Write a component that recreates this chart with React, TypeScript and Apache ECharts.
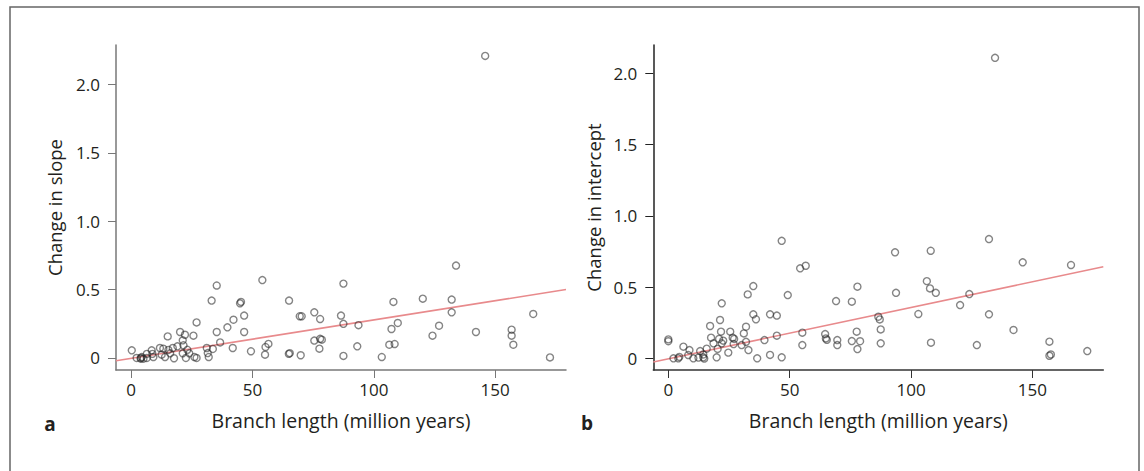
import React, { useEffect, useRef } from "react";
import * as echarts from "echarts";

// Panel a: change in slope vs branch length
const slopeX = [0.3, 2.3, 4.0, 4.0, 4.4, 5.1, 6.5, 6.5, 8.5, 8.8, 9.2, 11.9, 12.6, 13.3, 14.0, 15.1, 15.4, 16.1, 17.2, 17.7, 19.1, 20.2, 21.3, 21.6, 22.2, 21.3, 22.6, 23.2, 24.0, 25.7, 26.1, 27.0, 27.0, 31.2, 31.6, 32.0, 33.2, 33.7, 35.3, 35.3, 36.7, 39.7, 41.9, 42.2, 44.9, 45.3, 46.6, 46.6, 49.4, 54.1, 55.2, 55.4, 56.6, 65.1, 65.0, 65.4, 69.5, 70.3, 69.9, 75.5, 77.9, 75.5, 77.9, 77.6, 78.6, 87.5, 86.5, 87.5, 87.5, 93.7, 93.2, 103.3, 108.1, 107.3, 109.9, 106.4, 108.6, 120.2, 126.9, 124.2, 132.1, 132.1, 133.9, 142.1, 156.8, 156.8, 157.5, 165.7, 172.6, 145.9];
const slopeY = [0.056, 0.0, -0.005, 0.0, 0.007, -0.005, 0.03, 0.0, 0.056, 0.03, 0.007, 0.073, 0.024, 0.068, 0.007, 0.158, 0.059, 0.034, 0.073, -0.002, 0.085, 0.19, 0.129, 0.093, 0.17, 0.034, 0.0, 0.06, 0.034, 0.163, 0.007, 0.26, 0.0, 0.073, 0.036, 0.007, 0.42, 0.066, 0.53, 0.19, 0.114, 0.224, 0.073, 0.28, 0.40, 0.41, 0.31, 0.19, 0.049, 0.57, 0.024, 0.08, 0.103, 0.42, 0.03, 0.035, 0.305, 0.305, 0.02, 0.334, 0.285, 0.127, 0.14, 0.068, 0.134, 0.544, 0.31, 0.25, 0.015, 0.24, 0.085, 0.007, 0.41, 0.212, 0.256, 0.097, 0.102, 0.434, 0.236, 0.163, 0.427, 0.334, 0.676, 0.19, 0.207, 0.163, 0.097, 0.322, 0.004, 2.21];

// Panel b: change in intercept vs branch length
const interceptX = [0, 0, 2.1, 4.1, 4.5, 6.2, 8.2, 8.7, 10.3, 12.4, 13.1, 14.4, 14.8, 14.4, 15.8, 17.2, 17.6, 18.6, 19.9, 20.3, 21.3, 22.0, 21.7, 20.9, 22.6, 22.0, 24.7, 25.5, 26.5, 27.1, 26.9, 30.2, 31.1, 32.0, 32.0, 33.0, 32.7, 35.0, 35.0, 36.1, 36.6, 39.6, 41.9, 41.9, 44.7, 44.7, 46.7, 49.2, 46.7, 54.3, 56.6, 55.2, 55.2, 64.6, 64.9, 65.3, 69.1, 69.6, 69.6, 75.6, 77.9, 75.6, 77.6, 79.0, 77.9, 86.5, 87.1, 87.5, 87.5, 93.4, 93.8, 103.0, 106.5, 107.8, 110.2, 108.1, 108.2, 120.2, 124.0, 127.1, 132.1, 132.1, 142.2, 146.0, 157.0, 157.0, 157.6, 165.9, 172.6, 134.6];
const interceptY = [0.133, 0.12, 0, 0, 0.01, 0.082, 0.023, 0.058, 0, 0.005, 0.051, 0.007, -0.002, 0.027, 0.068, 0.227, 0.145, 0.105, 0.007, 0.066, 0.269, 0.386, 0.187, 0.136, 0.124, 0.105, 0.04, 0.187, 0.145, 0.136, 0.1, 0.093, 0.175, 0.222, 0.116, 0.058, 0.449, 0.507, 0.309, 0.274, 0.0, 0.128, 0.309, 0.024, 0.3, 0.159, 0.007, 0.444, 0.825, 0.632, 0.65, 0.18, 0.093, 0.17, 0.14, 0.13, 0.402, 0.128, 0.093, 0.398, 0.503, 0.121, 0.187, 0.12, 0.065, 0.292, 0.273, 0.203, 0.105, 0.744, 0.46, 0.311, 0.542, 0.491, 0.46, 0.755, 0.11, 0.374, 0.451, 0.093, 0.837, 0.309, 0.199, 0.674, 0.117, 0.018, 0.027, 0.655, 0.051, 2.11];

// Fitted lines: [intercept, slope]
const fitSlope = [-0.003, 0.00281];
const fitIntercept = [-0.004, 0.00361];

const xTicks = [0, 50, 100, 150];
const yTicks = [0, 0.5, 1.0, 1.5, 2.0];
const xRange = [-6.2, 179.2];
const yRangeA = [-0.088, 2.29];
const yRangeB = [-0.082, 2.2];

const FONT = "'Open Sans', 'Noto Sans', sans-serif";
const TEXT = "#231f20";

function zip(xs: number[], ys: number[]) {
  return xs.map((x, i) => [x, ys[i]]);
}
function fitLine(f: number[]) {
  return xRange.map((x) => [x, f[0] + f[1] * x]);
}

function xAxisOf(gridIndex: number, axisColor: string) {
  return {
    type: "value",
    gridIndex,
    min: xRange[0],
    max: xRange[1],
    name: "Branch length (million years)",
    nameLocation: "middle",
    nameGap: 40,
    nameMoveOverlap: false,
    nameTextStyle: { fontFamily: FONT, fontSize: 19.5, color: TEXT },
    axisLine: { show: true, onZero: false, lineStyle: { color: axisColor, width: 1.5 } },
    axisTick: { show: true, length: 8, lineStyle: { color: axisColor, width: 1 }, customValues: xTicks },
    axisLabel: {
      show: true,
      margin: 11,
      fontFamily: FONT,
      fontSize: 17,
      color: TEXT,
      customValues: xTicks,
      formatter: (v: number) => String(v),
    },
    splitLine: { show: false },
  };
}

function yAxisOf(gridIndex: number, range: number[], name: string, nameGap: number, axisColor: string) {
  return {
    type: "value",
    gridIndex,
    min: range[0],
    max: range[1],
    name,
    nameLocation: "middle",
    nameRotate: 90,
    nameGap,
    nameMoveOverlap: false,
    nameTextStyle: { fontFamily: FONT, fontSize: 18.5, color: TEXT },
    axisLine: { show: true, onZero: false, lineStyle: { color: axisColor, width: 1.5 } },
    axisTick: { show: true, length: 8, lineStyle: { color: axisColor, width: 1 }, customValues: yTicks },
    axisLabel: {
      show: true,
      margin: 16,
      fontFamily: FONT,
      fontSize: 17,
      color: TEXT,
      customValues: yTicks,
      formatter: (v: number) => (v === 0 ? "0" : v.toFixed(1)),
    },
    splitLine: { show: false },
  };
}

const pointStyle = {
  color: "rgba(0,0,0,0)",
  borderColor: "rgba(35,35,35,0.7)",
  borderWidth: 1.4,
};

export default function App() {
  const ref = useRef<HTMLDivElement>(null);
  useEffect(() => {
    document.body.style.margin = "0";
    if (!ref.current) return;
    const chart = echarts.init(ref.current, undefined, { renderer: "svg" });
    chart.setOption({
      animation: false,
      backgroundColor: "#ffffff",
      grid: [
        { left: 116, right: 578, top: 45, bottom: 101, containLabel: false, outerBoundsMode: "none" },
        { left: 653.3, right: 40.7, top: 45, bottom: 101, containLabel: false, outerBoundsMode: "none" },
      ],
      xAxis: [xAxisOf(0, "#777777"), xAxisOf(1, "#333333")],
      yAxis: [
        yAxisOf(0, yRangeA, "Change in slope", 52, "#777777"),
        yAxisOf(1, yRangeB, "Change in intercept", 50, "#222222"),
      ],
      series: [
        {
          type: "line",
          xAxisIndex: 0,
          yAxisIndex: 0,
          data: fitLine(fitSlope),
          symbol: "none",
          lineStyle: { color: "#e88a8c", width: 1.6 },
          silent: true,
          z: 1,
        },
        {
          type: "scatter",
          xAxisIndex: 0,
          yAxisIndex: 0,
          data: zip(slopeX, slopeY),
          symbol: "circle",
          symbolSize: 7,
          itemStyle: pointStyle,
          z: 2,
        },
        {
          type: "line",
          xAxisIndex: 1,
          yAxisIndex: 1,
          data: fitLine(fitIntercept),
          symbol: "none",
          lineStyle: { color: "#e88a8c", width: 1.6 },
          silent: true,
          z: 1,
        },
        {
          type: "scatter",
          xAxisIndex: 1,
          yAxisIndex: 1,
          data: zip(interceptX, interceptY),
          symbol: "circle",
          symbolSize: 7,
          itemStyle: pointStyle,
          z: 2,
        },
      ],
      graphic: [
        {
          type: "rect",
          shape: { x: 10, y: 7, width: 1129, height: 520 },
          style: { fill: "none", stroke: "#666666", lineWidth: 1.5 },
          silent: true,
        },
        {
          type: "text",
          x: 50,
          y: 424,
          style: {
            text: "a",
            font: `bold 19px ${FONT}`,
            fill: TEXT,
            textAlign: "center",
            textVerticalAlign: "middle",
          },
        },
        {
          type: "text",
          x: 587,
          y: 423,
          style: {
            text: "b",
            font: `bold 19px ${FONT}`,
            fill: TEXT,
            textAlign: "center",
            textVerticalAlign: "middle",
          },
        },
      ],
    });
    return () => chart.dispose();
  }, []);
  return <div ref={ref} style={{ width: 1144, height: 471 }} />;
}
